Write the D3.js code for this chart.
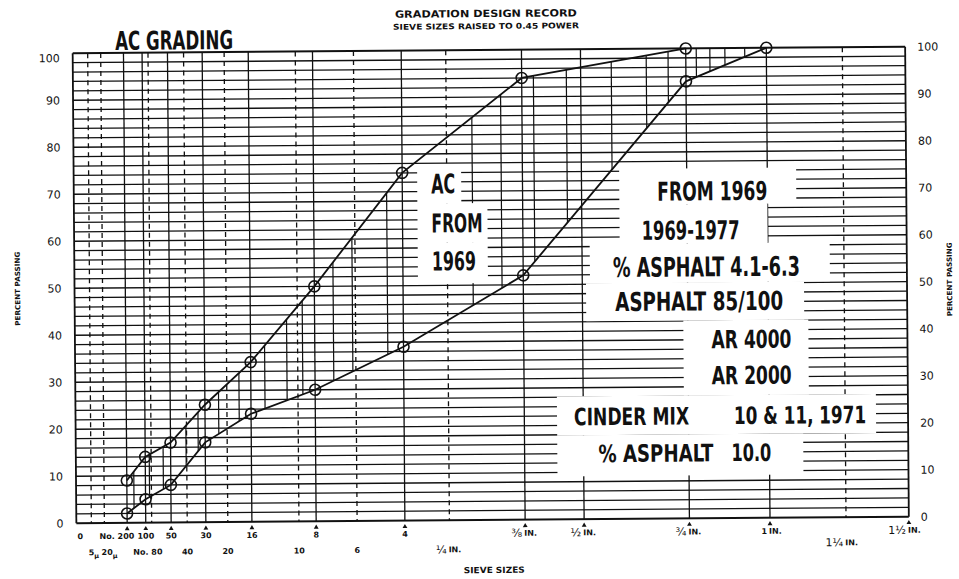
<!DOCTYPE html>
<html><head><meta charset="utf-8">
<script src="https://cdn.jsdelivr.net/npm/d3@7"></script>
<style>body{margin:0;background:#fff}svg{display:block}</style>
</head><body>
<svg id="c" width="959" height="579"></svg>
<script>
// ---------- DATA ----------
const sieveMM  = [0.075, 0.15, 0.3, 0.6, 1.18, 2.36, 4.75, 9.5, 19, 25];
const upperPct = [9, 14, 17, 25, 34, 50, 74, 94, 100, null];
const lowerPct = [2, 5, 8, 17, 23, 28, 37, 52, 93, 100];
const hatchMM  = [0.10, 0.17, 0.25, 0.42, 0.53, 0.75, 1.01, 1.40, 1.79, 2.10, 2.79, 3.27, 4.26,
                  7.30, 8.53, 10.06, 11.73, 14.24, 16.38, 17.80, 19.73, 20.7, 21.8, 23.3];
const yTicks   = [0,10,20,30,40,50,60,70,80,90,100];
const solidGridMM  = [0.075,0.15,0.3,0.6,1.18,2.36,4.75,9.5,12.5,19,25];
const dashedGridMM = [0.005,0.02,0.18,0.425,0.85,2.0,3.35,6.3,31.5];
const row1MM   = [0.075,0.15,0.3,0.6,1.18,2.36,4.75,9.5,12.5,19,25,37.5];
const row1Text = ["No. 200","100","50","30","16","8","4","⅜ IN.","½ IN.","¾ IN.","1 IN.","1½ IN."];
const row2MM   = [0.005,0.02,0.18,0.425,0.85,2.0,3.35,6.3];
const row2Text = ["5μ","20μ","No. 80","40","20","10","6","¼ IN."];
const row3MM   = [31.5];
const row3Text = ["1¼ IN."];

// annotation layout (pasted-on labels)
const notes = [
 {t:"AC GRADING", x:117, y:47, w:118, s:26},
 {t:"AC", x:432, y:193, w:24, s:27},
 {t:"FROM", x:432, y:232, w:51, s:26},
 {t:"1969", x:432, y:270, w:44, s:26},
 {t:"FROM 1969", x:658, y:202, w:110, s:26},
 {t:"1969-1977", x:642, y:241, w:98, s:26},
 {t:"% ASPHALT 4.1-6.3", x:613, y:278, w:187, s:27},
 {t:"ASPHALT 85/100", x:615, y:312, w:168, s:26},
 {t:"AR 4000", x:711, y:350, w:80, s:25},
 {t:"AR 2000", x:711, y:386, w:80, s:25},
 {t:"CINDER MIX", x:573, y:426, w:115, s:24},
 {t:"10 & 11, 1971", x:733, y:426, w:132, s:24},
 {t:"% ASPHALT", x:597, y:463, w:115, s:24},
 {t:"10.0", x:730, y:463, w:40, s:24}
];
const boxes = [[418,164,462,203],[418,203,488,242],[418,242,488,283],
 [620,170,797,206],[620,206,768,245],[590,245,830,284],[586,284,804,322],
 [683,322,808,397],[556,397,875,436],[556,436,802,477]];

// ---------- CHART ----------
const svg = d3.select("#c");
const g = svg.append("g").attr("transform","rotate(-0.45,490,285)");
const x = d3.scalePow().exponent(0.45).domain([0,37.5]).range([74.5,907]);
const y = d3.scaleLinear().domain([0,100]).range([520,50]);
const ink = "#111";
const sans = "'DejaVu Sans', 'Liberation Sans', sans-serif";
const cond = "'DejaVu Sans Condensed', 'Liberation Sans Narrow', 'DejaVu Sans', sans-serif";

// horizontal grid every 2 %
g.append("g").selectAll("line").data(d3.range(0,101,2)).join("line")
  .attr("x1",x(0)).attr("x2",x(37.5)).attr("y1",d=>y(d)).attr("y2",d=>y(d))
  .attr("stroke",ink).attr("stroke-width",d=>(d===0||d===100)?2:1.3);

// vertical grid
g.append("g").selectAll("line").data(solidGridMM.concat([0,37.5])).join("line")
  .attr("x1",d=>x(d)).attr("x2",d=>x(d)).attr("y1",y(100)).attr("y2",y(0))
  .attr("stroke",ink).attr("stroke-width",d=>(d===0||d===37.5)?1.8:1.3);
g.append("g").selectAll("line").data(dashedGridMM).join("line")
  .attr("x1",d=>x(d)).attr("x2",d=>x(d)).attr("y1",y(100)).attr("y2",y(0))
  .attr("stroke",ink).attr("stroke-width",1.3).attr("stroke-dasharray","5,4");

// band between curves (for hatching)
const upPts = sieveMM.map((s,i)=>[s,upperPct[i]]).filter(d=>d[1]!==null);
const loPts = sieveMM.map((s,i)=>[s,lowerPct[i]]);
const bandPx = upPts.map(d=>[x(d[0]),y(d[1])])
  .concat([[x(sieveMM[sieveMM.length-1]),y(100)]])
  .concat(loPts.slice().reverse().map(d=>[x(d[0]),y(d[1])]));
svg.append("defs").append("clipPath").attr("id","band")
  .append("path").attr("d","M"+bandPx.map(p=>p.join(",")).join("L")+"Z");
g.append("g").attr("clip-path","url(#band)").selectAll("line").data(hatchMM).join("line")
  .attr("x1",d=>x(d)).attr("x2",d=>x(d)).attr("y1",y(100)).attr("y2",y(0))
  .attr("stroke",ink).attr("stroke-width",1.2);

// curves
const line = d3.line().x(d=>x(d[0])).y(d=>y(d[1]));
[upPts, loPts].forEach(pts=>{
  g.append("path").attr("d",line(pts)).attr("fill","none").attr("stroke",ink).attr("stroke-width",1.8);
  g.append("g").selectAll("circle").data(pts).join("circle")
    .attr("cx",d=>x(d[0])).attr("cy",d=>y(d[1])).attr("r",5.5)
    .attr("fill","none").attr("stroke",ink).attr("stroke-width",1.6);
});

// white paste-up boxes + annotation text
g.append("g").selectAll("rect").data(boxes).join("rect")
  .attr("x",d=>d[0]).attr("y",d=>d[1]).attr("width",d=>d[2]-d[0]).attr("height",d=>d[3]-d[1])
  .attr("fill","#fff");
g.append("g").selectAll("text").data(notes).join("text")
  .attr("x",d=>d.x).attr("y",d=>d.y).attr("font-size",d=>d.s)
  .attr("textLength",d=>d.w).attr("lengthAdjust","spacingAndGlyphs")
  .attr("font-family",cond).attr("font-weight","bold").attr("font-stretch","condensed")
  .attr("fill",ink).text(d=>d.t);

// y axes
const yl = g.append("g").attr("transform",`translate(${x(0)-13},0)`)
  .call(d3.axisLeft(y).tickValues(yTicks).tickSize(0).tickPadding(0));
const yr = g.append("g").attr("transform",`translate(${x(37.5)+12},0)`)
  .call(d3.axisRight(y).tickValues(yTicks).tickSize(0).tickPadding(0));
[yl,yr].forEach(a=>{
  a.select(".domain").remove();
  a.selectAll("text").attr("font-family",sans).attr("font-size",11).attr("fill",ink);
});
yl.selectAll(".tick").filter(d=>d===100).select("text").attr("dy","0.75em");

// x labels
const fracRe = /[¼½¾⅜]/;
function xLabel(sel, mm, txt, base){
  mm.forEach((m,i)=>{
    const t = txt[i], px = x(m);
    const st = sel.append("g").attr("font-family",sans).attr("font-weight","bold")
      .attr("font-size",8).attr("fill",ink);
    if (t.includes("IN.")) {
      const pre = t.replace(" IN.","");
      const pt = st.append("text").attr("x",px-3).attr("y",base).attr("text-anchor","end").text(pre);
      if (fracRe.test(pre)) pt.attr("font-size",11).attr("font-weight","normal").attr("y",base+1);
      st.append("text").attr("x",px-1).attr("y",base).attr("text-anchor","start").text("IN.");
    } else if (t.startsWith("No. ") && base<540) {
      st.append("text").attr("x",px+7).attr("y",base).attr("text-anchor","end").text(t);
    } else if (t.startsWith("No. ")) {
      st.append("text").attr("x",px-4).attr("y",base).attr("text-anchor","middle").text(t);
    } else if (t.includes("μ")) {
      const tx = st.append("text").attr("x",px-3).attr("y",base).attr("text-anchor","start");
      tx.append("tspan").text(t.replace("μ",""));
      tx.append("tspan").attr("dy",3).attr("font-size",6.5).text("μ");
    } else {
      st.append("text").attr("x",px).attr("y",base).attr("text-anchor","middle").text(t);
    }
  });
}
const xl = g.append("g");
xl.append("text").attr("x",x(0)+1).attr("y",536).attr("font-family",sans)
  .attr("font-weight","bold").attr("font-size",8).attr("fill",ink).text("0");
xLabel(xl,row1MM,row1Text,536);
xLabel(xl,row2MM,row2Text,552);
xLabel(xl,row3MM,row3Text,548);

// small arrow ticks under the axis
g.append("g").selectAll("path").data(row1MM).join("path")
  .attr("d",d3.symbol(d3.symbolTriangle,10)())
  .attr("transform",d=>`translate(${x(d)},${y(0)+6})`).attr("fill",ink);

// titles
g.append("text").attr("x",488).attr("y",17).attr("text-anchor","middle")
  .attr("font-family",sans).attr("font-weight","bold").attr("font-size",10)
  .attr("textLength",182).attr("lengthAdjust","spacingAndGlyphs").attr("fill",ink)
  .text("GRADATION DESIGN RECORD");
g.append("text").attr("x",488).attr("y",29).attr("text-anchor","middle")
  .attr("font-family",sans).attr("font-weight","bold").attr("font-size",8)
  .attr("textLength",186).attr("lengthAdjust","spacingAndGlyphs").attr("fill",ink)
  .text("SIEVE SIZES RAISED TO 0.45 POWER");
g.append("text").attr("x",492).attr("y",573).attr("text-anchor","middle")
  .attr("font-family",sans).attr("font-weight","bold").attr("font-size",8.5)
  .attr("textLength",61).attr("lengthAdjust","spacingAndGlyphs").attr("fill",ink)
  .text("SIEVE SIZES");
[[20,285],[952,283]].forEach(p=>{
  g.append("text").attr("transform",`translate(${p[0]},${p[1]}) rotate(-90)`)
    .attr("text-anchor","middle").attr("font-family",sans).attr("font-weight","bold")
    .attr("font-size",7).attr("textLength",74).attr("lengthAdjust","spacingAndGlyphs")
    .attr("fill",ink).text("PERCENT PASSING");
});
</script>
</body></html>
